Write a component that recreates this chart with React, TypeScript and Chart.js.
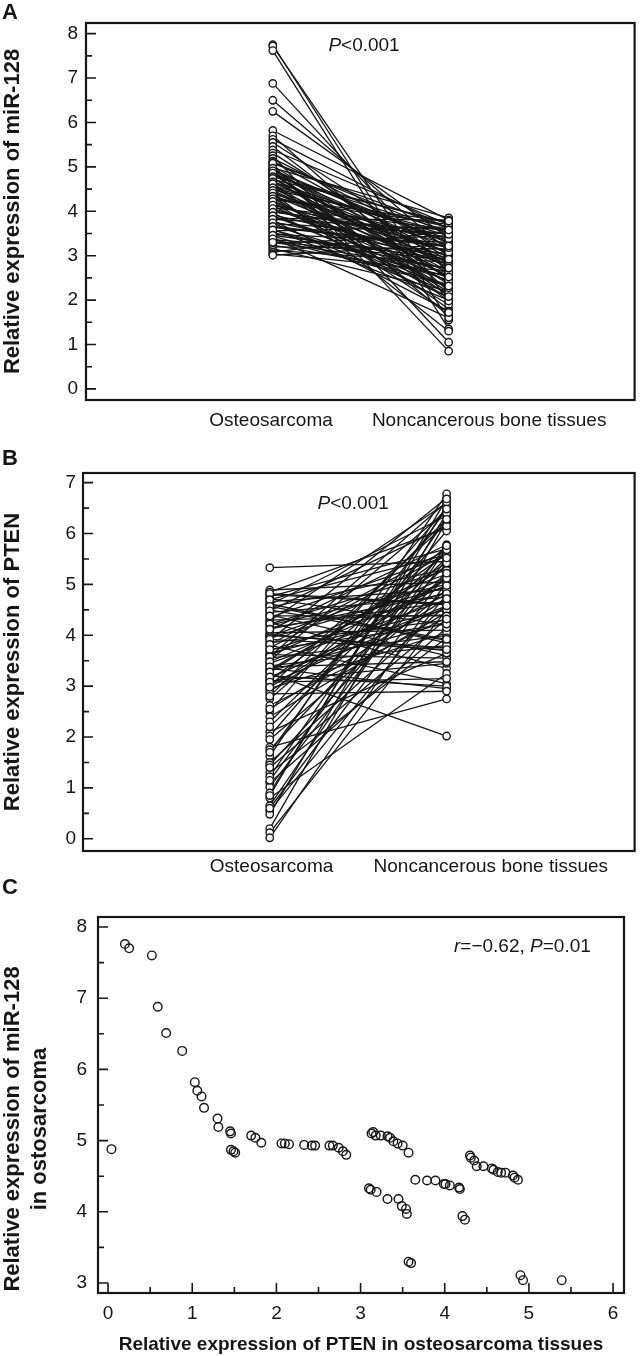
import React, { useEffect, useRef } from 'react';
import { Chart, registerables } from 'chart.js';

Chart.register(...registerables);

const FONT = '"Liberation Sans", Arial, Helvetica, sans-serif';
const INK = '#161616';

// ---------- Panel A: miR-128 (paired) ----------
const groupLabels = ['Osteosarcoma', 'Noncancerous bone tissues'];
const mirTumor = [
  7.75, 7.72, 7.62, 6.88, 6.5, 6.25, 5.82, 5.7, 5.62, 5.55,
  5.46, 5.38, 5.31, 5.25, 5.19, 5.13, 5.1, 5.05, 5.02, 4.98,
  4.95, 4.93, 4.9, 4.88, 4.85, 4.83, 4.8, 4.76, 4.72, 4.68,
  4.64, 4.61, 4.58, 4.55, 4.51, 4.48, 4.45, 4.42, 4.39, 4.36,
  4.33, 4.3, 4.27, 4.24, 4.2, 4.16, 4.12, 4.08, 4.04, 4.0,
  3.96, 3.92, 3.88, 3.84, 3.8, 3.76, 3.72, 3.68, 3.64, 3.6,
  3.56, 3.52, 3.48, 3.44, 3.4, 3.36, 3.32, 3.28, 3.24, 3.2,
  3.16, 3.12, 3.08, 3.04, 3.01,
  5.08, 4.97, 4.91, 4.86, 4.78, 4.74, 4.66, 4.62, 4.53, 4.47,
  4.41, 4.34, 4.28, 4.22, 4.14, 4.06, 3.98, 3.9, 3.82, 3.74,
  3.66, 3.58, 3.46, 3.38, 3.3,
];
const mirNormal = [
  1.55, 1.95, 1.35, 2.6, 3.1, 3.4, 3.8, 2.2, 3.6, 3.0,
  2.45, 3.7, 2.8, 1.05, 3.2, 2.95, 3.5, 0.85, 2.7, 3.85,
  2.35, 3.3, 1.65, 2.9, 3.15, 2.5, 3.55, 2.1, 3.75, 2.65,
  3.05, 1.8, 3.45, 2.25, 2.85, 3.65, 2.4, 1.3, 3.25, 2.75,
  3.35, 2.05, 3.7, 2.55, 1.9, 3.1, 2.3, 3.6, 2.8, 3.4,
  2.15, 3.0, 2.6, 3.8, 1.75, 2.95, 3.5, 2.45, 3.2, 2.0,
  3.65, 2.7, 3.3, 2.35, 1.6, 3.05, 2.9, 3.45, 2.55, 3.15,
  2.2, 2.85, 3.55, 2.65, 3.25,
  3.62, 2.48, 3.28, 1.98, 3.72, 2.78, 3.38, 2.18, 3.52, 2.62,
  3.08, 1.72, 3.78, 2.42, 3.18, 2.88, 3.48, 2.28, 3.58, 2.08,
  3.22, 2.52, 2.92, 2.32, 2.72,
];
const mirTicks = [0, 1, 2, 3, 4, 5, 6, 7, 8];

// ---------- Panel B: PTEN (paired) ----------
const ptenTumor = [
  5.33, 4.89, 4.85, 4.8, 4.76, 4.72, 4.66, 4.62, 4.6, 4.55,
  4.5, 4.45, 4.4, 4.35, 4.3, 4.28, 4.25, 4.2, 4.15, 4.1,
  4.05, 4.02, 4.0, 3.98, 3.95, 3.9, 3.85, 3.8, 3.75, 3.7,
  3.65, 3.62, 3.6, 3.55, 3.5, 3.45, 3.4, 3.35, 3.32, 3.3,
  3.25, 3.2, 3.15, 3.12, 3.1, 3.05, 3.0, 2.95, 2.9, 2.85,
  2.75, 2.62, 2.5, 2.4, 2.3, 2.1, 2.02, 1.95, 1.8, 1.75,
  1.62, 1.5, 1.45, 1.3, 1.22, 1.1, 1.02, 0.9, 0.8, 0.65,
  0.55, 0.48, 0.2, 0.12, 0.02,
  4.82, 4.7, 4.57, 4.48, 4.38, 4.22, 4.12, 3.92, 3.82, 3.72,
  3.58, 3.48, 3.38, 3.28, 3.18, 3.08, 2.98, 2.8, 2.55, 2.2,
  1.7, 1.4, 1.15, 0.85, 0.6,
];
const ptenNormal = [
  5.45, 5.05, 6.1, 4.6, 5.7, 4.2, 4.9, 3.85, 6.35, 5.3,
  3.9, 4.75, 3.6, 5.55, 4.4, 6.6, 3.35, 5.0, 4.65, 5.78,
  4.1, 3.7, 3.75, 5.2, 4.95, 6.7, 4.3, 3.05, 5.6, 4.85,
  4.5, 3.55, 5.15, 4.0, 6.45, 4.7, 3.8, 2.95, 5.35, 4.25,
  2.02, 3.0, 4.8, 5.6, 3.45, 4.55, 6.2, 4.05, 5.1, 2.9,
  5.75, 4.35, 6.5, 4.45, 5.65, 3.65, 6.05, 4.9, 2.75, 5.4,
  6.78, 4.6, 5.25, 3.95, 6.3, 4.15, 5.5, 6.55, 3.25, 5.72,
  4.8, 6.4, 6.25, 4.5, 5.05,
  4.62, 5.58, 3.92, 6.15, 4.38, 5.28, 4.82, 3.72, 5.68, 4.22,
  6.62, 4.98, 3.48, 5.42, 4.58, 3.15, 5.12, 6.28, 4.72, 5.52,
  6.48, 4.32, 5.76, 6.68, 5.22,
];
const ptenTicks = [0, 1, 2, 3, 4, 5, 6, 7];

// ---------- Panel C: correlation scatter ----------
const scatterPten = [
  0.04, 0.2, 0.25, 0.52, 0.59, 0.69, 0.88, 1.03, 1.06, 1.11,
  1.14, 1.3, 1.31, 1.45, 1.46, 1.46, 1.49, 1.51, 1.7, 1.75,
  1.82, 2.06, 2.1, 2.15, 2.33, 2.42, 2.46, 2.63, 2.67, 2.74,
  2.79, 2.83, 3.13, 3.15, 3.18, 3.24, 3.32, 3.35, 3.39, 3.44,
  3.5, 3.57, 3.1, 3.12, 3.19, 3.32, 3.45, 3.49, 3.54, 3.55,
  3.57, 3.6, 3.65, 3.79, 3.89, 3.99, 4.01, 4.06, 4.17, 4.18,
  4.21, 4.24, 4.3, 4.31, 4.35, 4.38, 4.46, 4.56, 4.58, 4.63,
  4.67, 4.72, 4.81, 4.83, 4.87, 4.9, 4.93, 5.39,
];
const scatterMir = [
  4.88, 7.76, 7.7, 7.6, 6.88, 6.51, 6.26, 5.82, 5.7, 5.62,
  5.46, 5.31, 5.19, 5.13, 5.1, 4.87, 4.85, 4.83, 5.07, 5.04,
  4.97, 4.96, 4.96, 4.95, 4.94, 4.93, 4.93, 4.93, 4.93, 4.9,
  4.85, 4.8, 5.1, 5.12, 5.07, 5.07, 5.06, 5.04, 4.99, 4.96,
  4.93, 4.83, 4.33, 4.31, 4.28, 4.18, 4.18, 4.08, 4.04, 3.97,
  3.3, 3.28, 4.45, 4.44, 4.44, 4.39, 4.39, 4.37, 4.34, 4.32,
  3.94, 3.89, 4.79, 4.76, 4.72, 4.64, 4.64, 4.61, 4.59, 4.56,
  4.55, 4.55, 4.51, 4.48, 4.45, 3.11, 3.04, 3.04,
];
const scatterXTicks = [0, 1, 2, 3, 4, 5, 6];
const scatterYTicks = [3, 4, 5, 6, 7, 8];

// ---------- helpers ----------
type NotePart = [string, boolean];
type Decor = {
  xTicks?: number[];
  yTicks: number[];
  note: { x: number; y: number; parts: NotePart[] };
  yTitle?: { lines: string[]; xs: number[]; dy: number };
};

function decorPlugin(d: Decor) {
  return {
    id: 'decor',
    afterDraw(chart: any) {
      const ctx: CanvasRenderingContext2D = chart.ctx;
      const a = chart.chartArea;
      const xs = chart.scales.x;
      const ys = chart.scales.y;
      ctx.save();
      ctx.strokeStyle = INK;
      ctx.lineWidth = 1.6;
      ctx.beginPath();
      d.yTicks.forEach((v, i) => {
        const p = ys.getPixelForValue(v);
        ctx.moveTo(a.left, p);
        ctx.lineTo(a.left + 10, p);
        if (i < d.yTicks.length - 1) {
          const m = ys.getPixelForValue((v + d.yTicks[i + 1]) / 2);
          ctx.moveTo(a.left, m);
          ctx.lineTo(a.left + 6, m);
        }
      });
      if (d.xTicks) {
        d.xTicks.forEach((v, i) => {
          const p = xs.getPixelForValue(v);
          ctx.moveTo(p, a.bottom);
          ctx.lineTo(p, a.bottom - 10);
          if (i < d.xTicks!.length - 1) {
            const m = xs.getPixelForValue((v + d.xTicks![i + 1]) / 2);
            ctx.moveTo(m, a.bottom);
            ctx.lineTo(m, a.bottom - 6);
          }
        });
      }
      ctx.stroke();
      ctx.lineWidth = 2.2;
      ctx.strokeRect(a.left, a.top, a.right - a.left, a.bottom - a.top);

      // annotation
      ctx.fillStyle = INK;
      ctx.textAlign = 'left';
      ctx.textBaseline = 'alphabetic';
      let x = xs.getPixelForValue(d.note.x);
      const y = ys.getPixelForValue(d.note.y);
      for (const [t, it] of d.note.parts) {
        ctx.font = `${it ? 'italic ' : ''}19px ${FONT}`;
        ctx.fillText(t, x, y);
        x += ctx.measureText(t).width;
      }

      // custom multi-line y title
      if (d.yTitle) {
        const cy = (a.top + a.bottom) / 2 + d.yTitle.dy;
        ctx.font = `bold 22px ${FONT}`;
        ctx.textAlign = 'center';
        ctx.textBaseline = 'middle';
        d.yTitle.lines.forEach((line, i) => {
          ctx.save();
          ctx.translate(d.yTitle!.xs[i], cy);
          ctx.rotate(-Math.PI / 2);
          ctx.fillText(line, 0, 0);
          ctx.restore();
        });
      }
      ctx.restore();
    },
  };
}

const tickFont = { family: FONT, size: 19 };
const titleFont = { family: FONT, size: 19, weight: 'bold' as const };
const yTitleFont = { family: FONT, size: 22, weight: 'bold' as const };

type PairedOpts = {
  tumor: number[];
  normal: number[];
  yTicks: number[];
  yMin: number;
  yMax: number;
  xMin: number;
  xMax: number;
  labelPos: number[];
  yTitle: string;
  padTop: number;
  padRight: number;
  yAxisW: number;
  xAxisH: number;
  labelPad: number;
  yLabelPad: number;
  note: { x: number; y: number; parts: NotePart[] };
};

function pairedConfig(o: PairedOpts): any {
  const xT = 1;
  const xN = 2;
  const lines = o.tumor.map((t, i) => ({
    data: [
      { x: xT, y: t },
      { x: xN, y: o.normal[i] },
    ],
    showLine: true,
    borderColor: INK,
    borderWidth: 1.3,
    pointRadius: 0,
    order: 1,
  }));
  const pointDs = (xv: number, vals: number[]) => ({
    data: vals.map((v) => ({ x: xv, y: v })),
    showLine: false,
    pointRadius: 3.7,
    pointBorderWidth: 1.4,
    pointBorderColor: INK,
    pointBackgroundColor: '#ffffff',
    borderColor: INK,
    backgroundColor: '#ffffff',
    order: 0,
  });
  return {
    type: 'scatter',
    data: { datasets: [pointDs(xT, o.tumor), pointDs(xN, o.normal), ...lines] },
    options: {
      animation: false,
      responsive: false,
      devicePixelRatio: 1,
      events: [],
      layout: { padding: { top: o.padTop, right: o.padRight, left: 0, bottom: 0 } },
      plugins: { legend: { display: false }, tooltip: { enabled: false } },
      scales: {
        x: {
          type: 'linear',
          min: o.xMin,
          max: o.xMax,
          afterBuildTicks: (s: any) => {
            s.ticks = o.labelPos.map((v) => ({ value: v }));
          },
          afterFit: (s: any) => {
            s.height = o.xAxisH;
          },
          grid: { display: false, drawTicks: false },
          border: { display: false },
          ticks: {
            autoSkip: false,
            maxRotation: 0,
            minRotation: 0,
            padding: o.labelPad,
            color: INK,
            font: tickFont,
            callback: (_v: any, i: number) => groupLabels[i],
          },
        },
        y: {
          type: 'linear',
          min: o.yMin,
          max: o.yMax,
          afterBuildTicks: (s: any) => {
            s.ticks = o.yTicks.map((v) => ({ value: v }));
          },
          afterFit: (s: any) => {
            s.width = o.yAxisW;
          },
          grid: { display: false, drawTicks: false },
          border: { display: false },
          ticks: { padding: o.yLabelPad, color: INK, font: tickFont },
          title: {
            display: true,
            text: o.yTitle,
            color: INK,
            font: yTitleFont,
            padding: { top: 0, bottom: 0 },
          },
        },
      },
    },
    plugins: [decorPlugin({ yTicks: o.yTicks, note: o.note })],
  };
}

function scatterConfig(): any {
  return {
    type: 'scatter',
    data: {
      datasets: [
        {
          data: scatterPten.map((x, i) => ({ x, y: scatterMir[i] })),
          pointRadius: 4.3,
          pointBorderWidth: 1.4,
          pointBorderColor: INK,
          pointBackgroundColor: 'rgba(0,0,0,0)',
          borderColor: INK,
          backgroundColor: 'rgba(0,0,0,0)',
        },
      ],
    },
    options: {
      animation: false,
      responsive: false,
      devicePixelRatio: 1,
      events: [],
      layout: { padding: { top: 47, right: 16, left: 0, bottom: 0 } },
      plugins: { legend: { display: false }, tooltip: { enabled: false } },
      scales: {
        x: {
          type: 'linear',
          min: -0.12,
          max: 6.13,
          afterBuildTicks: (s: any) => {
            s.ticks = scatterXTicks.map((v) => ({ value: v }));
          },
          afterFit: (s: any) => {
            s.height = 63;
          },
          grid: { display: false, drawTicks: false },
          border: { display: false },
          ticks: { autoSkip: false, maxRotation: 0, padding: 9, color: INK, font: tickFont },
          title: {
            display: true,
            text: 'Relative expression of PTEN in osteosarcoma tissues',
            color: INK,
            font: titleFont,
            padding: { top: 0, bottom: 0 },
          },
        },
        y: {
          type: 'linear',
          min: 2.86,
          max: 8.14,
          afterBuildTicks: (s: any) => {
            s.ticks = scatterYTicks.map((v) => ({ value: v }));
          },
          afterFit: (s: any) => {
            s.width = 98;
          },
          grid: { display: false, drawTicks: false },
          border: { display: false },
          ticks: { padding: 11, color: INK, font: tickFont },
        },
      },
    },
    plugins: [
      decorPlugin({
        xTicks: scatterXTicks,
        yTicks: scatterYTicks,
        note: {
          x: 4.11,
          y: 7.65,
          parts: [
            ['r', true],
            ['=\u22120.62, ', false],
            ['P', true],
            ['=0.01', false],
          ],
        },
        yTitle: {
          lines: ['Relative expression of miR-128', 'in ostosarcoma'],
          xs: [13, 40],
          dy: 24,
        },
      }),
    ],
  };
}

function Panel({ top, height, make }: { top: number; height: number; make: () => any }) {
  const ref = useRef<HTMLCanvasElement>(null);
  useEffect(() => {
    const chart = new Chart(ref.current as HTMLCanvasElement, make());
    return () => chart.destroy();
  }, []);
  return (
    <canvas
      ref={ref}
      width={640}
      height={height}
      style={{ position: 'absolute', left: 0, top, width: 640, height, display: 'block' }}
    />
  );
}

const letterStyle = (top: number): React.CSSProperties => ({
  position: 'absolute',
  left: 2,
  top,
  fontFamily: FONT,
  fontWeight: 'bold',
  fontSize: 22,
  lineHeight: '22px',
  color: INK,
});

export default function App() {
  return (
    <div style={{ position: 'absolute', left: 0, top: 0, width: 640, height: 1356, background: '#fff', overflow: 'hidden' }}>
      <Panel
        top={0}
        height={440}
        make={() =>
          pairedConfig({
            tumor: mirTumor,
            normal: mirNormal,
            yTicks: mirTicks,
            yMin: -0.25,
            yMax: 8.24,
            xMin: -0.062,
            xMax: 3.057,
            labelPos: [0.99, 2.23],
            yTitle: 'Relative expression of miR-128',
            padTop: 23,
            padRight: 2,
            yAxisW: 86,
            xAxisH: 40,
            labelPad: 9,
            yLabelPad: 8,
            note: { x: 1.316, y: 7.61, parts: [['P', true], ['<0.001', false]] },
          })
        }
      />
      <Panel
        top={440}
        height={445}
        make={() =>
          pairedConfig({
            tumor: ptenTumor,
            normal: ptenNormal,
            yTicks: ptenTicks,
            yMin: -0.24,
            yMax: 7.19,
            xMin: -0.056,
            xMax: 3.063,
            labelPos: [1.01, 2.25],
            yTitle: 'Relative expression of PTEN',
            padTop: 33,
            padRight: 5,
            yAxisW: 83,
            xAxisH: 34,
            labelPad: 4,
            yLabelPad: 7,
            note: { x: 1.27, y: 6.48, parts: [['P', true], ['<0.001', false]] },
          })
        }
      />
      <Panel top={870} height={486} make={scatterConfig} />
      <div style={letterStyle(1)}>A</div>
      <div style={letterStyle(447)}>B</div>
      <div style={letterStyle(876)}>C</div>
    </div>
  );
}
